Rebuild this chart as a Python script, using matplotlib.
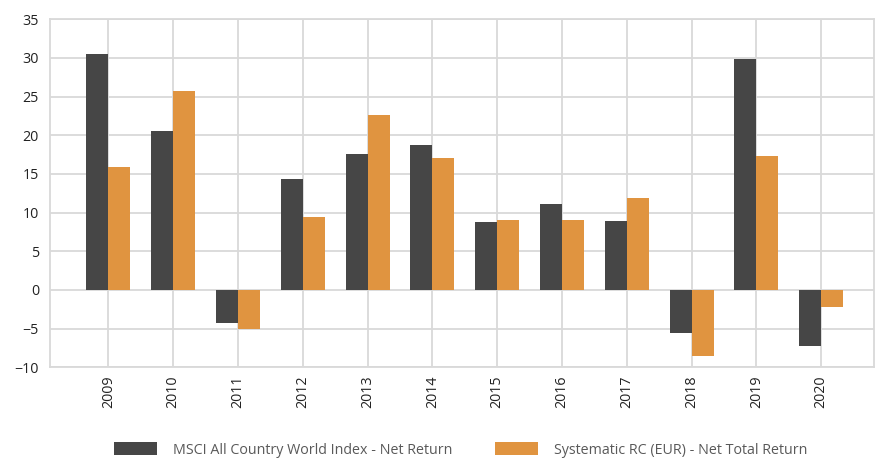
import matplotlib
matplotlib.use("Agg")
import matplotlib.pyplot as plt
import numpy as np

plt.rcParams['font.family'] = ['Open Sans', 'DejaVu Sans']

years = ["2009", "2010", "2011", "2012", "2013", "2014", "2015", "2016", "2017", "2018", "2019", "2020"]
msci = [30.5, 20.6, -4.3, 14.4, 17.6, 18.7, 8.8, 11.1, 8.9, -5.6, 29.9, -7.2]
systematic = [15.9, 25.7, -5.0, 9.4, 22.6, 17.0, 9.05, 9.05, 11.9, -8.5, 17.3, -2.2]

series_labels = ["MSCI All Country World Index - Net Return",
                 "Systematic RC (EUR) - Net Total Return"]

fig = plt.figure(figsize=(8.76, 4.59), dpi=100)
ax = fig.add_axes([50/876, 1-367.3/459, (874.3-50)/876, (367.3-19.3)/459])

x = np.arange(len(years))
w = 0.34
ax.bar(x - w/2, msci, width=w, color="#464646", label=series_labels[0], zorder=3)
ax.bar(x + w/2, systematic, width=w, color="#e09440", label=series_labels[1], zorder=3)

ax.set_xlim(-0.9, 11.82)
ax.set_ylim(-10, 35)
ax.set_yticks(np.arange(-10, 36, 5))
ax.set_xticks(x)
ax.set_xticklabels(years, rotation=90, fontsize=10.3, color="#222222")
ax.tick_params(axis='y', labelsize=10.3, labelcolor="#222222", length=0, pad=8)
ax.tick_params(axis='x', length=0, pad=6)
ax.grid(True, color="#d9d9d9", linewidth=1.3, zorder=0)
for s in ax.spines.values():
    s.set_color("#d9d9d9")
    s.set_linewidth(1.3)

leg = fig.legend(loc="lower center", bbox_to_anchor=(0.526, -0.025), ncol=2, frameon=False,
                 fontsize=10.3, handlelength=3.0, handleheight=1.0, columnspacing=3.0,
                 handletextpad=1.1)
for t in leg.get_texts():
    t.set_color("#595959")

fig.savefig("out.png", dpi=100)
